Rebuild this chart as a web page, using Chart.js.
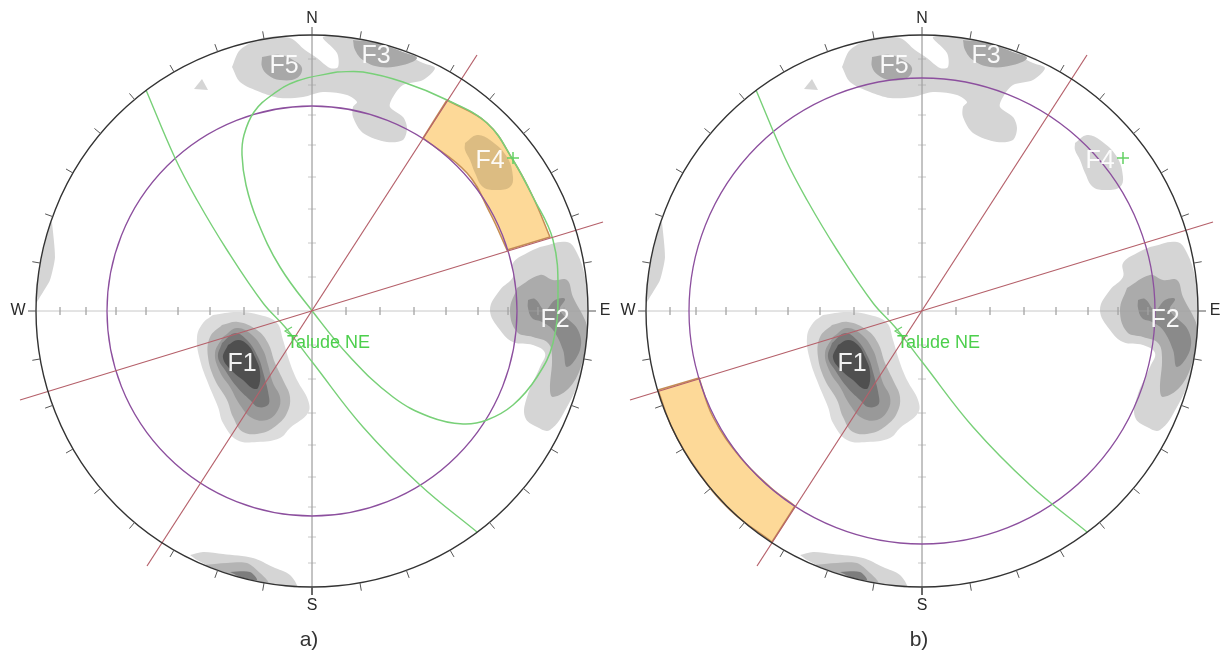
<!DOCTYPE html>
<html><head><meta charset="utf-8">
<style>html,body{margin:0;padding:0;background:#fff;overflow:hidden}
canvas{position:absolute;top:0;filter:blur(0.4px)}</style>
<script src="https://cdn.jsdelivr.net/npm/chart.js@4"></script></head>
<body><canvas id="a" width="610" height="657" style="left:0"></canvas><canvas id="b" width="619" height="657" style="left:610px"></canvas>
<script>
// Net coordinates: each stereonet has its centre at (312, 311), y grows towards the south.
const centre=[312,311], primitiveRadius=276, meanRadiusA=205, meanRadiusB=233;
const f1L1=[[213,315],[237,312],[260,315],[277,323],[283,340],[290,363],[297,380],[308,400],[308,413],[290,428],[280,438],[257,442],[237,440],[223,423],[218,407],[208,383],[200,360],[197,337],[203,323]];
const f1L2=[[222,325],[238,322],[257,330],[268,343],[275,363],[283,380],[290,397],[287,413],[277,425],[262,433],[243,432],[233,417],[227,400],[215,380],[208,357],[210,337]];
const f1L3=[[223,337],[237,328],[252,335],[263,350],[268,365],[273,383],[280,397],[278,410],[267,420],[252,418],[240,405],[230,387],[220,372],[215,353]];
const f1L4=[[222,343],[235,333],[247,340],[258,357],[263,372],[269,397],[268,405],[258,407],[250,400],[237,387],[225,370],[218,357]];
const f1L5=[[228,345],[238,340],[248,345],[255,357],[260,372],[258,388],[252,388],[243,380],[233,372],[223,358]];
const f2L1=[[540,247],[567,242],[577,253],[585,277],[588,303],[587,343],[580,377],[567,407],[550,430],[537,427],[525,417],[527,397],[540,367],[545,353],[533,345],[513,342],[500,330],[490,310],[500,290],[513,277],[513,263],[527,253]];
const f2L2=[[517,288],[540,275],[553,280],[567,280],[573,297],[585,320],[587,330],[582,363],[570,387],[553,397],[550,390],[552,357],[548,343],[533,337],[517,332],[510,310]];
const f2L3=[[528,300],[535,299],[545,310],[555,300],[565,299],[560,310],[578,330],[580,350],[567,367],[563,350],[553,330],[542,322],[532,318],[528,308]];
const f5f3L1=[[232,67],[240,50],[263,38],[290,38],[305,50],[317,58],[330,68],[338,67],[337,53],[323,37],[353,38],[390,47],[423,63],[435,68],[423,80],[403,85],[393,97],[390,107],[403,117],[407,128],[403,140],[387,142],[363,133],[353,117],[353,107],[357,102],[347,95],[323,92],[303,97],[280,98],[260,92],[240,82]];
const f5L2=[[262,57],[280,55],[293,60],[302,68],[297,78],[280,80],[268,75],[262,67]];
const f3L2=[[353,40],[377,43],[403,52],[417,58],[403,65],[380,67],[363,60],[355,50]];
const islet=[[194,89],[202,79],[208,90]];
const f4L1=[[465,143],[477,135],[490,140],[507,157],[513,177],[510,187],[497,190],[483,187],[475,173],[470,160],[465,150]];
const westL1=[[52,222],[55,257],[50,280],[40,297],[36,303],[36,287],[42,257],[50,223]];
const southL1=[[190,555],[203,552],[223,554],[253,558],[273,567],[290,575],[297,587],[283,586],[263,582],[237,577],[213,568],[197,560]];
const southL2=[[203,565],[227,563],[247,563],[260,573],[268,582],[253,580],[233,575],[213,568]];
const southL3=[[230,572],[250,572],[257,580],[243,578]];
const bandAOuter=[[447,100],[487,123],[513,160],[533,197],[550,237]];
const bandAInner=[[507,250],[490,213],[467,173],[423,138]];
const bandBOuter=[[48,390],[63,430],[87,470],[120,510],[162,542]];
const bandBInner=[[185,506],[160,487],[130,457],[103,417],[89,378]];
const greatCircle=[[146,90],[175,158],[197,200],[227,250],[263,303],[285,327],[313,363],[363,427],[420,485],[477,532]];
const slopeEllipse=[[337,72],[297,81],[272,95],[254,112],[244,135],[242,155],[246,185],[257,220],[280,267],[313,312],[350,357],[393,397],[430,417],[463,424],[487,420],[513,405],[537,377],[553,343],[558,293],[553,240],[533,197],[513,160],[487,123],[447,100],[403,82],[363,72],[337,72]];
const redLine1=[[147,566],[477,55]];
const redLine2=[[20,400],[603,222]];
const slopeMark=[[292,327],[285,331],[291,335]];
const slopePole=[[513,158]];
const axisTicks=[34,68,102,134,166,196,226,252];
const rimTicks=[0,10,20,30,40,50,60,70,80,90,100,110,120,130,140,150,160,170,180,190,200,210,220,230,240,250,260,270,280,290,300,310,320,330,340,350];
const familyNames=['F1','F2','F3','F4','F5'];
const familyX=[242,555,376,490,284];
const familyY=[364,320,56,161,66];
const compassNames=['N','S','E','W'];
const compassX=[312,312,605,18];
const compassY=[19,606,311,311];

const pts=a=>a.map(p=>({x:p[0],y:p[1]}));
const closed=a=>pts(a.concat([a[0]]));
const patch=(a,c,t)=>({type:'scatter',data:closed(a),showLine:true,fill:'shape',backgroundColor:c,borderWidth:0,borderColor:c,pointRadius:0,tension:t===undefined?0.4:t});
const line=(d,c,w,t)=>({type:'scatter',data:d,showLine:true,fill:false,borderColor:c,borderWidth:w,pointRadius:0,tension:t||0,spanGaps:false});
const ring=(r,c,w)=>({type:'bubble',data:[{x:centre[0],y:centre[1],r:r}],backgroundColor:'rgba(0,0,0,0)',borderColor:c,borderWidth:w,hoverBorderWidth:w});
function segments(list){const out=[];list.forEach(s=>{out.push(s[0],s[1],{x:NaN,y:NaN});});return out;}
const crossSegs=segments([
  [{x:centre[0]-primitiveRadius,y:centre[1]},{x:centre[0]+primitiveRadius,y:centre[1]}],
  [{x:centre[0],y:centre[1]-primitiveRadius},{x:centre[0],y:centre[1]+primitiveRadius}],
  ...axisTicks.flatMap(d=>[-1,1].flatMap(s=>[
    [{x:centre[0]+s*d,y:centre[1]-4},{x:centre[0]+s*d,y:centre[1]+4}],
    [{x:centre[0]-4,y:centre[1]+s*d},{x:centre[0]+4,y:centre[1]+s*d}]]))]);
const rimSegs=segments(rimTicks.map(az=>{const r=az*Math.PI/180,s=Math.sin(r),c=Math.cos(r);
  return [{x:centre[0]+s*primitiveRadius,y:centre[1]-c*primitiveRadius},{x:centre[0]+s*(primitiveRadius+8),y:centre[1]-c*(primitiveRadius+8)}];}));

const G1='#d5d5d5',G2='#b4b4b4',G3='#999999',G4='#777777',G5='#4f4f4f';
const contours=[patch(f1L1,'#dcdcdc'),patch(f1L2,G2),patch(f1L3,G3),patch(f1L4,G4),patch(f1L5,G5),
  patch(f2L1,G1),patch(f2L2,'#ababab'),patch(f2L3,'#8a8a8a'),
  patch(f5f3L1,G1,0.3),patch(f5L2,'#a8a8a8'),patch(f3L2,'#a8a8a8'),patch(islet,G1,0),
  patch(westL1,G1,0.2),patch(southL1,G1,0.3),patch(southL2,G2,0.3),patch(southL3,'#7d7d7d',0.3)];
const crossLines=line(crossSegs,'rgba(165,165,165,0.6)',1);
const rimLines=line(rimSegs,'#555555',1);
const reds=[line(pts(redLine1),'#b5606a',1.2),line(pts(redLine2),'#b5606a',1.2)];
const green=c=>line(pts(greatCircle),c,1.4,0.4);
const marks=[line(pts(slopeMark),'#6fd06f',1.2),{type:'scatter',data:pts(slopePole),pointStyle:'cross',pointRadius:6,borderColor:'#63d163',borderWidth:1.5,backgroundColor:'#63d163'}];
// Corners are repeated so the curved sides of the window meet at sharp angles.
const band=(o,i)=>{const lastO=o[o.length-1],lastI=i[i.length-1];
  const outline=[...o,lastO,i[0],...i,lastI,o[0],o[0]];
  return {type:'scatter',data:pts(outline),showLine:true,fill:'shape',backgroundColor:'#fdd998',borderColor:'#c48d55',borderWidth:1.5,pointRadius:0,tension:0.4};};

const setsA=[...contours,band(bandAOuter,bandAInner),patch(f4L1,'#dcbc82'),crossLines,
  ring(meanRadiusA,'#8c4f9e',1.3),green('#78d078'),line(pts(slopeEllipse),'#78d078',1.5,0.4),...reds,...marks,
  ring(primitiveRadius,'#333333',1.4),rimLines];
const setsB=[...contours,patch(f4L1,G1),band(bandBOuter,bandBInner),crossLines,
  ring(meanRadiusB,'#8c4f9e',1.3),green('#78d078'),...reds,...marks,
  ring(primitiveRadius,'#333333',1.4),rimLines];

const labels=caption=>({id:'labels',afterDatasetsDraw(ch){
  const g=ch.ctx,x=ch.scales.x,y=ch.scales.y;g.save();g.textAlign='center';g.textBaseline='middle';
  g.font='25px "Liberation Sans",Arial,sans-serif';g.fillStyle='rgba(255,255,255,0.93)';
  familyNames.forEach((n,i)=>g.fillText(n,x.getPixelForValue(familyX[i]),y.getPixelForValue(familyY[i])));
  g.font='16px "Liberation Sans",Arial,sans-serif';g.fillStyle='#2a2a2a';
  compassNames.forEach((n,i)=>g.fillText(n,x.getPixelForValue(compassX[i]),y.getPixelForValue(compassY[i])));
  g.font='18px "Liberation Sans",Arial,sans-serif';g.fillStyle='#4ccf4c';g.textAlign='left';
  g.fillText('Talude NE',x.getPixelForValue(287),y.getPixelForValue(343));
  g.textAlign='center';g.font='21px "Liberation Sans",Arial,sans-serif';g.fillStyle='#333';
  g.fillText(caption,x.getPixelForValue(309),y.getPixelForValue(640));
  g.restore();}});

function draw(id,sets,xMax,caption){
  const n=sets.length;
  sets=sets.map((s,i)=>({...s,order:n-i,clip:false}));
  new Chart(document.getElementById(id),{data:{datasets:sets},plugins:[labels(caption)],
    options:{responsive:false,animation:false,events:[],devicePixelRatio:1,
      layout:{padding:0,autoPadding:false},
      plugins:{legend:{display:false},tooltip:{enabled:false}},
      scales:{x:{type:'linear',display:false,min:0,max:xMax},y:{type:'linear',display:false,reverse:true,min:0,max:657}}}});
}
draw('a',setsA,610,'a)');
draw('b',setsB,619,'b)');
</script></body></html>
